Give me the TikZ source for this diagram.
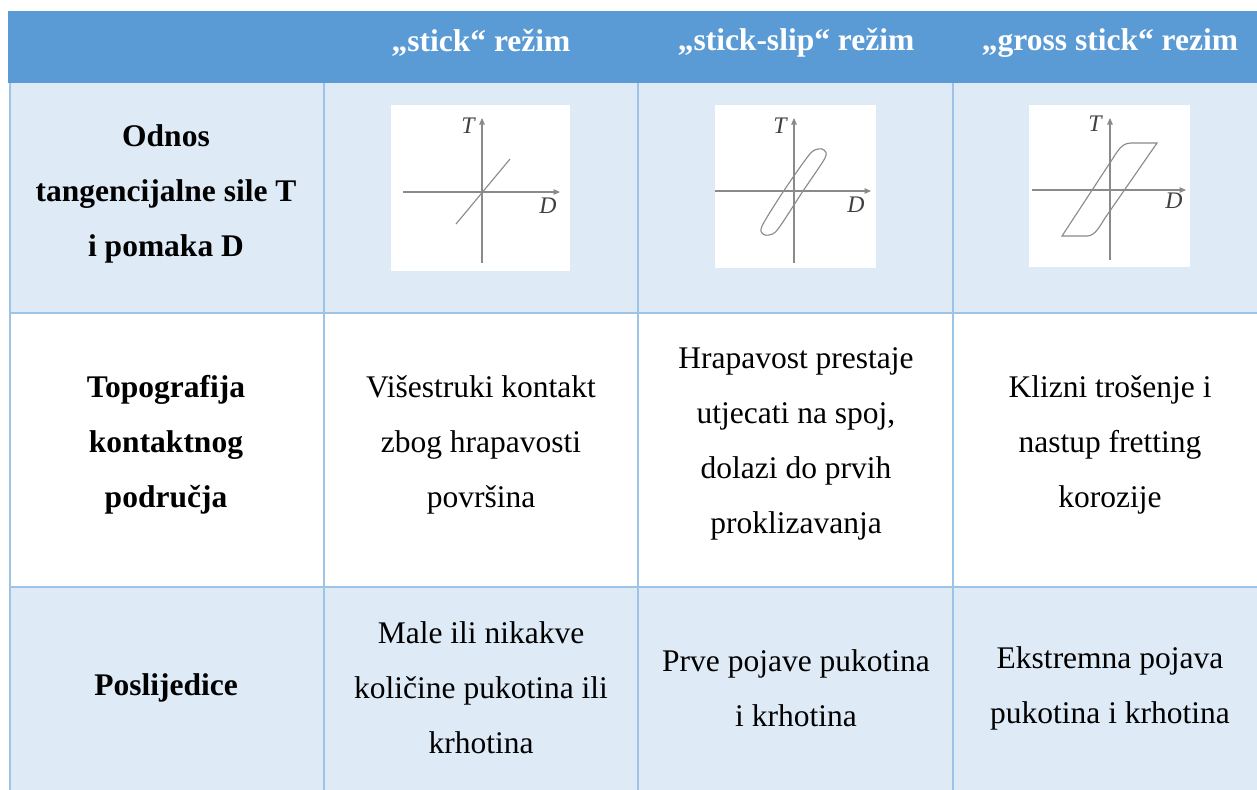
\documentclass[tikz,border=0pt]{standalone}
\usepackage{fontspec}
\setmainfont{Liberation Serif}
\usetikzlibrary{arrows.meta}
\definecolor{headblue}{HTML}{5B9BD5}
\definecolor{rowblue}{HTML}{DEEAF6}
\definecolor{lineblue}{HTML}{9DC3E6}
\definecolor{plotgray}{HTML}{8A8A8A}
\tikzset{
  gridline/.style={lineblue,line width=0.8pt},
  headtext/.style={text=white,font=\fontsize{12.6}{22}\selectfont\bfseries},
  rowtext/.style={align=center,font=\fontsize{12.6}{22}\selectfont\bfseries},
  celltext/.style={align=center,font=\fontsize{12.6}{22}\selectfont},
  axis/.style={plotgray,line width=0.45pt,-{Triangle[length=2.6pt,width=2.2pt]}},
  curve/.style={plotgray,line width=0.45pt},
  axlabel/.style={inner sep=0pt,text=black!75,font=\fontsize{9.5}{11}\selectfont\itshape}
}
\begin{document}
\begin{tikzpicture}[x=0.4pt,y=-0.4pt]
\useasboundingbox (0,0) rectangle (1257,789);
% header and shaded rows
\fill[headblue] (8,11) rectangle (1267,83);
\fill[rowblue] (9,83) rectangle (1267,313);
\fill[rowblue] (9,587) rectangle (1267,801);
% table rules
\foreach \x in {10,324,638,953}
  \draw[gridline] (\x,83) -- (\x,801);
\foreach \y in {313,587}
  \draw[gridline] (10,\y) -- (1267,\y);
% header
\node[headtext] (hstick) at (481,43) {„stick“ režim};
\node[headtext] (hslip) at (796,43) {„stick-slip“ režim};
\node[headtext] (hgross) at (1110,43) {„gross stick“ rezim};
% row labels
\node[rowtext] (rodnos) at (166,194) {Odnos\\tangencijalne sile T\\i pomaka D};
\node[rowtext] (rtopo) at (166,445) {Topografija\\kontaktnog\\područja};
\node[rowtext] (rposl) at (166,688) {Poslijedice};
% plot 1: stick
\fill[white] (391,105) rectangle (570,271);
\draw[axis] (403,192) -- (560,192);
\draw[axis] (482,263) -- (482,118);
\draw[curve] (456,224) -- (510,159);
\node[axlabel] (tstick) at (468,126) {T};
\node[axlabel] (dstick) at (548,206) {D};
% plot 2: stick-slip
\fill[white] (715,105) rectangle (876,268);
\draw[axis] (715,191) -- (871,191);
\draw[axis] (794,263) -- (794,118);
\draw[curve] plot[smooth cycle] coordinates {(762,226) (783,192) (809,155) (818,149) (824,150) (825,158) (803,191) (778,229) (769,235) (763,234)};
\node[axlabel] (tslip) at (780,126) {T};
\node[axlabel] (dslip) at (856,205) {D};
% plot 3: gross stick
\fill[white] (1029,105) rectangle (1190,267);
\draw[axis] (1032,190) -- (1186,190);
\draw[axis] (1110,260) -- (1110,118);
\draw[curve] (1062,236) -- (1117,152) .. controls (1121,146) and (1125,143) .. (1131,143) -- (1157,143) -- (1105,218) .. controls (1100,226) and (1095,236) .. (1087,236) -- cycle;
\node[axlabel] (tgross) at (1095,124) {T};
\node[axlabel] (dgross) at (1174,201) {D};
% row 2
\node[celltext] (topostick) at (481,445) {Višestruki kontakt\\zbog hrapavosti\\površina};
\node[celltext] (toposlip) at (796,444) {Hrapavost prestaje\\utjecati na spoj,\\dolazi do prvih\\proklizavanja};
\node[celltext] (topogross) at (1110,445) {Klizni trošenje i\\nastup fretting\\korozije};
% row 3
\node[celltext] (poslstick) at (481,688) {Male ili nikakve\\količine pukotina ili\\krhotina};
\node[celltext] (poslslip) at (796,688) {Prve pojave pukotina\\i krhotina};
\node[celltext] (poslgross) at (1110,688) {Ekstremna pojava\\pukotina i krhotina};
\end{tikzpicture}
\end{document}
